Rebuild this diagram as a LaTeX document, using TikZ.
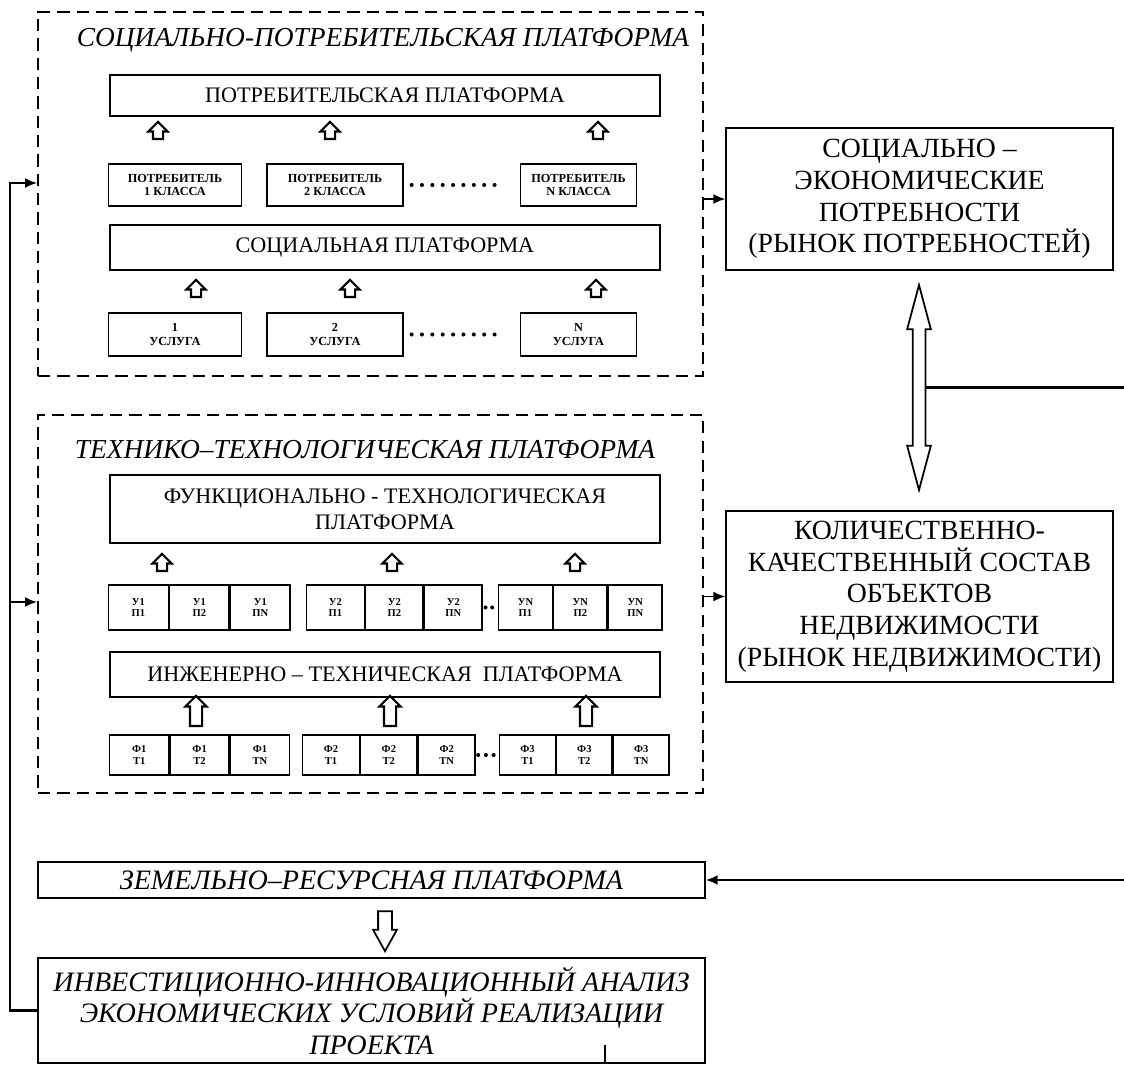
\documentclass[tikz,border=0pt]{standalone}
\usepackage{fontspec}
\setmainfont{Liberation Serif}
\usetikzlibrary{shapes.arrows,arrows.meta}

\begin{document}
\begin{tikzpicture}[
    x=0.2mm, y=-0.2mm,
    >={Latex[length=2.4mm,width=2mm]},
    every node/.style={inner sep=1pt},
    platform/.style={
        draw, line width=1pt, dash pattern=on 7pt off 4pt,
        minimum width=133mm
    },
    layer/.style={
        draw, line width=0.8pt, minimum width=110mm,
        align=center, font=\fontsize{12.6}{15}\selectfont
    },
    unit/.style={
        draw, line width=0.8pt, minimum width=26.6mm, minimum height=8.4mm,
        align=center, font=\fontsize{7}{7.6}\selectfont\bfseries
    },
    cell/.style={
        draw, line width=0.8pt, anchor=west,
        align=center, font=\fontsize{6}{6.6}\selectfont\bfseries
    },
    market/.style={
        draw, line width=0.8pt, minimum width=77.4mm,
        align=center, font=\fontsize{15.8}{18}\selectfont
    },
    base/.style={
        draw, line width=0.8pt, minimum width=133.4mm,
        align=center, font=\fontsize{16}{18}\selectfont\itshape
    },
    ptitle/.style={font=\fontsize{15.6}{18}\selectfont\itshape},
    uparrow/.style={
        single arrow, draw, line width=1.2pt, shape border rotate=90,
        inner sep=0.8mm, single arrow head extend=0.9mm, minimum height=3.4mm
    },
    tallarrow/.style={
        uparrow, inner sep=1mm, minimum height=6mm
    },
    dots/.style={line width=2.3pt, line cap=round}
]

\useasboundingbox (0,0) rectangle (1124,1065);

% Social-consumer platform
\node[platform, minimum height=72.8mm] (sp) at (370.5,194) {};
\node[ptitle] (spt) at (383,40) {СОЦИАЛЬНО-ПОТРЕБИТЕЛЬСКАЯ ПЛАТФОРМА};

\node[layer, minimum height=8.2mm] (cons) at (385,95.5) {ПОТРЕБИТЕЛЬСКАЯ ПЛАТФОРМА};
\node[uparrow] (ca1) at (158,133) {};
\node[uparrow] (ca2) at (330,133) {};
\node[uparrow] (ca3) at (598,133) {};

\node[unit] (c1) at (175,185) {ПОТРЕБИТЕЛЬ\\1 КЛАССА};
\node[unit, minimum width=27.2mm] (c2) at (335,185) {ПОТРЕБИТЕЛЬ\\2 КЛАССА};
\node[unit, minimum width=23.2mm] (c3) at (578.5,185) {ПОТРЕБИТЕЛЬ\\N КЛАССА};
\draw[dots, dash pattern=on 0pt off 5.9pt, shorten <=4.5pt, shorten >=9pt] (c2) -- (c3);

\node[layer, minimum height=9mm] (soc) at (385,247.5) {СОЦИАЛЬНАЯ ПЛАТФОРМА};
\node[uparrow] (sa1) at (196,291) {};
\node[uparrow] (sa2) at (350,291) {};
\node[uparrow] (sa3) at (596,291) {};

\node[unit, minimum height=8.6mm] (s1) at (175,334.5) {1\\УСЛУГА};
\node[unit, minimum height=8.6mm, minimum width=27.2mm] (s2) at (335,334.5) {2\\УСЛУГА};
\node[unit, minimum height=8.6mm, minimum width=23.2mm] (s3) at (578.5,334.5) {N\\УСЛУГА};
\draw[dots, dash pattern=on 0pt off 5.9pt, shorten <=4.5pt, shorten >=9pt] (s2) -- (s3);

% Technical-technological platform
\node[platform, minimum height=75.6mm] (tp) at (370.5,604) {};
\node[ptitle] (tpt) at (365,450) {ТЕХНИКО–ТЕХНОЛОГИЧЕСКАЯ ПЛАТФОРМА};

\node[layer, minimum height=13.6mm] (fun) at (385,509) {ФУНКЦИОНАЛЬНО - ТЕХНОЛОГИЧЕСКАЯ\\ПЛАТФОРМА};
\node[uparrow] (fa1) at (162,565) {};
\node[uparrow] (fa2) at (392,565) {};
\node[uparrow] (fa3) at (575,565) {};

% grid of services and premises
\node[cell, minimum width=11.9mm, minimum height=9mm] (u1) at (108,607.5) {У1\\П1};
\node[cell, minimum width=11.9mm, minimum height=9mm] (u2) at (u1.east) {У1\\П2};
\node[cell, minimum width=11.9mm, minimum height=9mm] (u3) at (u2.east) {У1\\ПN};
\node[cell, minimum width=11.5mm, minimum height=9mm] (u4) at (306,607.5) {У2\\П1};
\node[cell, minimum width=11.5mm, minimum height=9mm] (u5) at (u4.east) {У2\\П2};
\node[cell, minimum width=11.5mm, minimum height=9mm] (u6) at (u5.east) {У2\\ПN};
\node[cell, minimum width=10.7mm, minimum height=9mm] (u7) at (498,607.5) {УN\\П1};
\node[cell, minimum width=10.7mm, minimum height=9mm] (u8) at (u7.east) {УN\\П2};
\node[cell, minimum width=10.7mm, minimum height=9mm] (u9) at (u8.east) {УN\\ПN};
\draw[dots, dash pattern=on 0pt off 3.8pt, shorten <=1.6pt, shorten >=2.4pt] (u6.east) -- (u7.west);

\node[layer, minimum height=9mm] (eng) at (385,674.5) {ИНЖЕНЕРНО – ТЕХНИЧЕСКАЯ~~ПЛАТФОРМА};
\node[tallarrow] (ea1) at (196,714) {};
\node[tallarrow] (ea2) at (390,714) {};
\node[tallarrow] (ea3) at (586,714) {};

% grid of functions and technologies
\node[cell, minimum width=11.8mm, minimum height=8mm] (f1) at (109,755) {Ф1\\Т1};
\node[cell, minimum width=11.8mm, minimum height=8mm] (f2) at (f1.east) {Ф1\\Т2};
\node[cell, minimum width=11.8mm, minimum height=8mm] (f3) at (f2.east) {Ф1\\ТN};
\node[cell, minimum width=11.3mm, minimum height=8mm] (f4) at (302,755) {Ф2\\Т1};
\node[cell, minimum width=11.3mm, minimum height=8mm] (f5) at (f4.east) {Ф2\\Т2};
\node[cell, minimum width=11.3mm, minimum height=8mm] (f6) at (f5.east) {Ф2\\ТN};
\node[cell, minimum width=11.1mm, minimum height=8mm] (f7) at (499,755) {Ф3\\Т1};
\node[cell, minimum width=11.1mm, minimum height=8mm] (f8) at (f7.east) {Ф3\\Т2};
\node[cell, minimum width=11.1mm, minimum height=8mm] (f9) at (f8.east) {Ф3\\ТN};
\draw[dots, dash pattern=on 0pt off 4.4pt, shorten <=1.4pt, shorten >=1.2pt] (f6.east) -- (f7.west);

% Markets on the right
\node[market, minimum height=28.4mm] (need) at (919.5,199) {СОЦИАЛЬНО –\\ЭКОНОМИЧЕСКИЕ\\ПОТРЕБНОСТИ\\(РЫНОК ПОТРЕБНОСТЕЙ)};
\node[market, minimum height=34.2mm] (stock) at (919.5,596.5) {КОЛИЧЕСТВЕННО-\\КАЧЕСТВЕННЫЙ СОСТАВ\\ОБЪЕКТОВ\\НЕДВИЖИМОСТИ\\(РЫНОК НЕДВИЖИМОСТИ)};
\node[double arrow, draw, line width=1pt, shape border rotate=90,
      inner sep=1.1mm, double arrow head extend=1.1mm, double arrow tip angle=30,
      minimum height=41mm] (darr) at (919,387.5) {};

\draw[->, line width=1pt] (sp.east |- need.west) -- (need.west);
\draw[->, line width=1pt] (tp.east |- stock.west) -- (stock.west);

% Land platform and investment analysis
\node[base, minimum height=7.2mm] (land) at (371.5,880) {ЗЕМЕЛЬНО–РЕСУРСНАЯ ПЛАТФОРМА};
\node[single arrow, draw, line width=1pt, shape border rotate=270,
      inner sep=1.2mm, single arrow head extend=1mm, single arrow tip angle=58,
      minimum height=8mm] (larr) at (385,925) {};
\node[base, minimum height=21mm] (inv) at (371.5,1010.5) {ИНВЕСТИЦИОННО-ИННОВАЦИОННЫЙ АНАЛИЗ\\ЭКОНОМИЧЕСКИХ УСЛОВИЙ РЕАЛИЗАЦИИ\\ПРОЕКТА};
\draw[line width=1pt] (605,1045) -- (605,1063);

% Feedback lines
\coordinate (fb1) at (10,183);
\coordinate (fb2) at (10,602);
\draw[->, line width=1.2pt] (inv.west) -| (fb1) -- (fb1 -| sp.west);
\draw[->, line width=1.2pt] (fb2) -- (fb2 -| tp.west);

\coordinate (rt1) at (1124,387.5);
\coordinate (rt2) at (1124,880);
\draw[line width=1.2pt] (darr) -- (rt1);
\draw[->, line width=1.2pt] (rt2) -- (land);

\end{tikzpicture}
\end{document}
